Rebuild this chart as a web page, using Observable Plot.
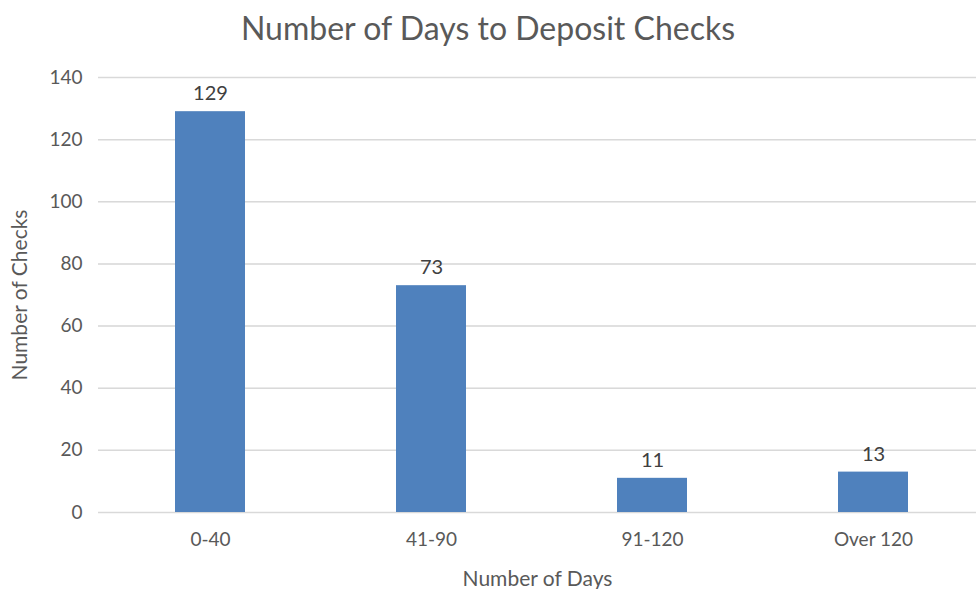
<!DOCTYPE html>
<html>
<head>
<meta charset="utf-8">
<script src="https://cdn.jsdelivr.net/npm/d3@7"></script>
<script src="https://cdn.jsdelivr.net/npm/@observablehq/plot@0.6"></script>
<style>
  html, body { margin: 0; padding: 0; background: #fff; }
  body { width: 976px; height: 589px; overflow: hidden; font-family: Lato, "Open Sans", sans-serif; }
  #title { height: 55px; line-height: 55px; text-align: center; font-size: 32px; color: #595959; }
  svg { overflow: visible; }
</style>
</head>
<body>
<div id="title">Number of Days to Deposit Checks</div>
<div id="chart"></div>
<script>
const categories = ["0-40", "41-90", "91-120", "Over 120"];
const counts = [129, 73, 11, 13];
const yTicks = [0, 20, 40, 60, 80, 100, 120, 140];
const data = categories.map((c, i) => ({category: c, count: counts[i]}));

const chart = Plot.plot({
  width: 976,
  height: 534,
  marginTop: 22,
  marginBottom: 77,
  marginLeft: 98,
  marginRight: 0,
  style: {fontFamily: "Lato, 'Open Sans', sans-serif", fontSize: "19px", color: "#595959", background: "#fff"},
  x: {domain: categories, range: [98, 984], paddingInner: 0.684, paddingOuter: 0.342, label: "Number of Days", labelAnchor: "center", labelOffset: 73, tickSize: 0, tickPadding: 20},
  y: {domain: [0, 140], ticks: yTicks, grid: true, label: "Number of Checks", labelArrow: "none", labelAnchor: "center", labelOffset: 86, tickSize: 0, tickPadding: 16},
  marks: [
    Plot.gridY(yTicks, {stroke: "#d9d9d9", strokeOpacity: 1, strokeWidth: 1.5}),
    Plot.barY(data, {x: "category", y: "count", fill: "#4f81bd"}),
    Plot.text(data, {x: "category", y: "count", text: d => String(d.count), dy: -18, fill: "#404040", fontSize: 20})
  ]
});
document.getElementById("chart").appendChild(chart);
chart.querySelectorAll("[aria-label='x-axis label'] text, [aria-label='y-axis label'] text").forEach(t => {
  t.style.fontSize = "21px";
  t.textContent = t.textContent.replace(/\s*[→↑←↓]\s*/g, "");
});
</script>
</body>
</html>
